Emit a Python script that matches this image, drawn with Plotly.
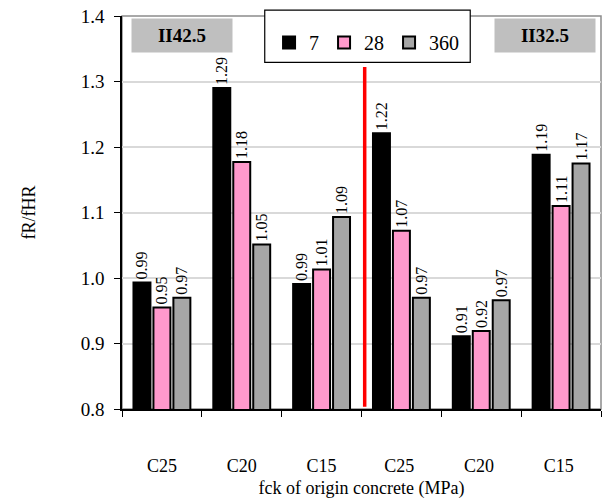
import plotly.graph_objects as go

categories = ["C25", "C20", "C15", "C25 ", "C20 ", "C15 "]
series_names = ["7", "28", "360"]
values_7 = [0.993, 1.290, 0.991, 1.221, 0.911, 1.188]
values_28 = [0.955, 1.177, 1.013, 1.072, 0.919, 1.110]
values_360 = [0.970, 1.051, 1.093, 0.970, 0.966, 1.175]
labels_7 = ["0.99", "1.29", "0.99", "1.22", "0.91", "1.19"]
labels_28 = ["0.95", "1.18", "1.01", "1.07", "0.92", "1.11"]
labels_360 = ["0.97", "1.05", "1.09", "0.97", "0.97", "1.17"]
colors = ["#000000", "#ff99cc", "#a6a6a6"]

FONT = "Liberation Serif, DejaVu Serif, serif"

fig = go.Figure()
for name, vals, labs, col in zip(series_names, [values_7, values_28, values_360],
                                 [labels_7, labels_28, labels_360], colors):
    fig.add_trace(go.Bar(
        x=categories, y=vals, name=name, text=labs,
        textposition="outside", textangle=-90, constraintext="none",
        textfont=dict(family=FONT, size=16, color="#000000"),
        cliponaxis=False,
        marker=dict(color=col, line=dict(color="#000000", width=2)),
    ))

fig.update_layout(
    width=605, height=499,
    margin=dict(l=122, r=4, t=16, b=90),
    paper_bgcolor="white", plot_bgcolor="white",
    barmode="group", bargap=0.25, bargroupgap=0.15,
    font=dict(family=FONT, size=17, color="#000000"),
    showlegend=True,
    legend=dict(orientation="h", x=0.307, y=0.982, xanchor="left", yanchor="top",
                bgcolor="rgba(0,0,0,0)", borderwidth=0,
                font=dict(family=FONT, size=20, color="#000000"),
                traceorder="normal"),
)
fig.update_xaxes(
    type="category", showline=True, linecolor="#000000", linewidth=1.5,
    ticks="outside", tickson="boundaries", ticklen=6, tickcolor="#000000",
    ticklabelstandoff=40, automargin=False,
    tickfont=dict(family=FONT, size=18, color="#000000"),
    title=dict(text="fck of origin concrete (MPa)", font=dict(family=FONT, size=18, color="#000000"), standoff=10),
)
fig.update_yaxes(
    range=[0.8, 1.4], dtick=0.1, tickformat=".1f",
    showline=True, linecolor="#000000", linewidth=1.5,
    ticks="outside", ticklen=6, tickcolor="#000000",
    showgrid=True, gridcolor="#d9d9d9", gridwidth=1.5,
    zeroline=False, ticklabelstandoff=6, automargin=False,
    tickfont=dict(family=FONT, size=19, color="#000000"),
    title=dict(text="fR/fHR", font=dict(family=FONT, size=18, color="#000000"), standoff=40),
)
# gray frame (top and right)
fig.add_shape(type="rect", xref="paper", yref="paper", x0=0, x1=1, y0=0, y1=1,
              line=dict(color="#8c8c8c", width=1.5), layer="below")
# legend box
fig.add_shape(type="rect", xref="paper", yref="paper", x0=0.298, x1=0.727, y0=0.882, y1=1.015,
              line=dict(color="#000000", width=1.2), fillcolor="white", layer="above")
# red separator
fig.add_shape(type="line", xref="x", yref="paper", x0=2.54, x1=2.54, y0=0.006, y1=0.87,
              line=dict(color="#ff0000", width=3.5))
# cement type boxes
for txt, xpos in [("II42.5", 0.019), ("II32.5", 0.777)]:
    fig.add_annotation(text="<b>%s</b>" % txt, xref="paper", yref="paper",
                       x=xpos, y=0.995, xanchor="left", yanchor="top",
                       showarrow=False, bgcolor="#bfbfbf", width=98, height=31,
                       font=dict(family=FONT, size=19, color="#000000"))

fig.write_html("out.html")
